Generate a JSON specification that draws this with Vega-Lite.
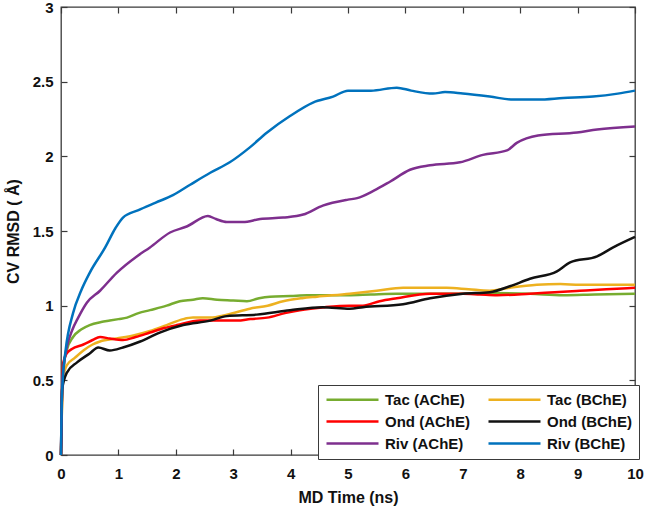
{
  "$schema": "https://vega.github.io/schema/vega-lite/v6.json",
  "width": 574,
  "height": 448,
  "autosize": "none",
  "padding": {"left": 61, "top": 7, "right": 10, "bottom": 58},
  "background": "white",
  "config": {"font": "Liberation Sans", "view": {"stroke": "#3a3a3a", "strokeWidth": 1.3}},
  "datasets": {
    "frame": [{"t": 0, "v": 0}, {"t": 10, "v": 3}]
  },
  "data": {
    "values": [
      {"s": "Tac (AChE)", "t": 0, "v": 0},
      {"s": "Tac (AChE)", "t": 0.02, "v": 0.4},
      {"s": "Tac (AChE)", "t": 0.05, "v": 0.6},
      {"s": "Tac (AChE)", "t": 0.1, "v": 0.7},
      {"s": "Tac (AChE)", "t": 0.21, "v": 0.79},
      {"s": "Tac (AChE)", "t": 0.35, "v": 0.84},
      {"s": "Tac (AChE)", "t": 0.5, "v": 0.87},
      {"s": "Tac (AChE)", "t": 0.7, "v": 0.89},
      {"s": "Tac (AChE)", "t": 0.85, "v": 0.9},
      {"s": "Tac (AChE)", "t": 1.0, "v": 0.91},
      {"s": "Tac (AChE)", "t": 1.15, "v": 0.92},
      {"s": "Tac (AChE)", "t": 1.35, "v": 0.95},
      {"s": "Tac (AChE)", "t": 1.55, "v": 0.97},
      {"s": "Tac (AChE)", "t": 1.84, "v": 1.0},
      {"s": "Tac (AChE)", "t": 2.07, "v": 1.03},
      {"s": "Tac (AChE)", "t": 2.3, "v": 1.04},
      {"s": "Tac (AChE)", "t": 2.47, "v": 1.05},
      {"s": "Tac (AChE)", "t": 2.72, "v": 1.04},
      {"s": "Tac (AChE)", "t": 3.0, "v": 1.035},
      {"s": "Tac (AChE)", "t": 3.24, "v": 1.03},
      {"s": "Tac (AChE)", "t": 3.45, "v": 1.05},
      {"s": "Tac (AChE)", "t": 3.64, "v": 1.06},
      {"s": "Tac (AChE)", "t": 4.0, "v": 1.065},
      {"s": "Tac (AChE)", "t": 4.29, "v": 1.07},
      {"s": "Tac (AChE)", "t": 4.56, "v": 1.07},
      {"s": "Tac (AChE)", "t": 5.0, "v": 1.07},
      {"s": "Tac (AChE)", "t": 5.4, "v": 1.075},
      {"s": "Tac (AChE)", "t": 5.85, "v": 1.08},
      {"s": "Tac (AChE)", "t": 6.5, "v": 1.08},
      {"s": "Tac (AChE)", "t": 7.0, "v": 1.08},
      {"s": "Tac (AChE)", "t": 7.5, "v": 1.085},
      {"s": "Tac (AChE)", "t": 8.17, "v": 1.08},
      {"s": "Tac (AChE)", "t": 8.75, "v": 1.07},
      {"s": "Tac (AChE)", "t": 9.3, "v": 1.075},
      {"s": "Tac (AChE)", "t": 10, "v": 1.08},

      {"s": "Tac (BChE)", "t": 0, "v": 0},
      {"s": "Tac (BChE)", "t": 0.02, "v": 0.38},
      {"s": "Tac (BChE)", "t": 0.04, "v": 0.52},
      {"s": "Tac (BChE)", "t": 0.1, "v": 0.6},
      {"s": "Tac (BChE)", "t": 0.24, "v": 0.65},
      {"s": "Tac (BChE)", "t": 0.39, "v": 0.7},
      {"s": "Tac (BChE)", "t": 0.55, "v": 0.74},
      {"s": "Tac (BChE)", "t": 0.68, "v": 0.76},
      {"s": "Tac (BChE)", "t": 0.97, "v": 0.78},
      {"s": "Tac (BChE)", "t": 1.26, "v": 0.8},
      {"s": "Tac (BChE)", "t": 1.55, "v": 0.83},
      {"s": "Tac (BChE)", "t": 1.84, "v": 0.87},
      {"s": "Tac (BChE)", "t": 2.13, "v": 0.91},
      {"s": "Tac (BChE)", "t": 2.3, "v": 0.92},
      {"s": "Tac (BChE)", "t": 2.6, "v": 0.92},
      {"s": "Tac (BChE)", "t": 2.89, "v": 0.94},
      {"s": "Tac (BChE)", "t": 3.29, "v": 0.98},
      {"s": "Tac (BChE)", "t": 3.6, "v": 1.0},
      {"s": "Tac (BChE)", "t": 3.87, "v": 1.03},
      {"s": "Tac (BChE)", "t": 4.2, "v": 1.05},
      {"s": "Tac (BChE)", "t": 4.46, "v": 1.06},
      {"s": "Tac (BChE)", "t": 5.03, "v": 1.08},
      {"s": "Tac (BChE)", "t": 5.5, "v": 1.1},
      {"s": "Tac (BChE)", "t": 5.96, "v": 1.12},
      {"s": "Tac (BChE)", "t": 6.4, "v": 1.12},
      {"s": "Tac (BChE)", "t": 6.72, "v": 1.12},
      {"s": "Tac (BChE)", "t": 7.1, "v": 1.11},
      {"s": "Tac (BChE)", "t": 7.47, "v": 1.1},
      {"s": "Tac (BChE)", "t": 7.82, "v": 1.12},
      {"s": "Tac (BChE)", "t": 8.29, "v": 1.14},
      {"s": "Tac (BChE)", "t": 8.7, "v": 1.145},
      {"s": "Tac (BChE)", "t": 9.04, "v": 1.14},
      {"s": "Tac (BChE)", "t": 9.5, "v": 1.14},
      {"s": "Tac (BChE)", "t": 10, "v": 1.14},

      {"s": "Ond (AChE)", "t": 0, "v": 0},
      {"s": "Ond (AChE)", "t": 0.02, "v": 0.45},
      {"s": "Ond (AChE)", "t": 0.04, "v": 0.62},
      {"s": "Ond (AChE)", "t": 0.1, "v": 0.68},
      {"s": "Ond (AChE)", "t": 0.19, "v": 0.71},
      {"s": "Ond (AChE)", "t": 0.39, "v": 0.74},
      {"s": "Ond (AChE)", "t": 0.55, "v": 0.77},
      {"s": "Ond (AChE)", "t": 0.68, "v": 0.79},
      {"s": "Ond (AChE)", "t": 0.85, "v": 0.78},
      {"s": "Ond (AChE)", "t": 1.08, "v": 0.77},
      {"s": "Ond (AChE)", "t": 1.3, "v": 0.79},
      {"s": "Ond (AChE)", "t": 1.55, "v": 0.82},
      {"s": "Ond (AChE)", "t": 1.8, "v": 0.85},
      {"s": "Ond (AChE)", "t": 2.02, "v": 0.87},
      {"s": "Ond (AChE)", "t": 2.42, "v": 0.9},
      {"s": "Ond (AChE)", "t": 2.72, "v": 0.9},
      {"s": "Ond (AChE)", "t": 3.07, "v": 0.9},
      {"s": "Ond (AChE)", "t": 3.3, "v": 0.91},
      {"s": "Ond (AChE)", "t": 3.59, "v": 0.92},
      {"s": "Ond (AChE)", "t": 3.9, "v": 0.95},
      {"s": "Ond (AChE)", "t": 4.16, "v": 0.97},
      {"s": "Ond (AChE)", "t": 4.6, "v": 0.99},
      {"s": "Ond (AChE)", "t": 5.03, "v": 1.0},
      {"s": "Ond (AChE)", "t": 5.26, "v": 1.0},
      {"s": "Ond (AChE)", "t": 5.55, "v": 1.03},
      {"s": "Ond (AChE)", "t": 5.85, "v": 1.05},
      {"s": "Ond (AChE)", "t": 6.43, "v": 1.08},
      {"s": "Ond (AChE)", "t": 7.0, "v": 1.08},
      {"s": "Ond (AChE)", "t": 7.3, "v": 1.075},
      {"s": "Ond (AChE)", "t": 7.6, "v": 1.07},
      {"s": "Ond (AChE)", "t": 8.17, "v": 1.08},
      {"s": "Ond (AChE)", "t": 8.6, "v": 1.09},
      {"s": "Ond (AChE)", "t": 9.04, "v": 1.1},
      {"s": "Ond (AChE)", "t": 9.5, "v": 1.11},
      {"s": "Ond (AChE)", "t": 10, "v": 1.12},

      {"s": "Ond (BChE)", "t": 0, "v": 0},
      {"s": "Ond (BChE)", "t": 0.02, "v": 0.44},
      {"s": "Ond (BChE)", "t": 0.1, "v": 0.55},
      {"s": "Ond (BChE)", "t": 0.28, "v": 0.62},
      {"s": "Ond (BChE)", "t": 0.5, "v": 0.68},
      {"s": "Ond (BChE)", "t": 0.65, "v": 0.72},
      {"s": "Ond (BChE)", "t": 0.85, "v": 0.7},
      {"s": "Ond (BChE)", "t": 1.08, "v": 0.72},
      {"s": "Ond (BChE)", "t": 1.38, "v": 0.76},
      {"s": "Ond (BChE)", "t": 1.72, "v": 0.82},
      {"s": "Ond (BChE)", "t": 2.13, "v": 0.87},
      {"s": "Ond (BChE)", "t": 2.6, "v": 0.9},
      {"s": "Ond (BChE)", "t": 2.89, "v": 0.93},
      {"s": "Ond (BChE)", "t": 3.41, "v": 0.94},
      {"s": "Ond (BChE)", "t": 3.99, "v": 0.97},
      {"s": "Ond (BChE)", "t": 4.56, "v": 0.99},
      {"s": "Ond (BChE)", "t": 5.03, "v": 0.98},
      {"s": "Ond (BChE)", "t": 5.26, "v": 0.99},
      {"s": "Ond (BChE)", "t": 5.96, "v": 1.01},
      {"s": "Ond (BChE)", "t": 6.43, "v": 1.05},
      {"s": "Ond (BChE)", "t": 7.0, "v": 1.08},
      {"s": "Ond (BChE)", "t": 7.47, "v": 1.09},
      {"s": "Ond (BChE)", "t": 7.82, "v": 1.13},
      {"s": "Ond (BChE)", "t": 8.17, "v": 1.18},
      {"s": "Ond (BChE)", "t": 8.64, "v": 1.23},
      {"s": "Ond (BChE)", "t": 8.87, "v": 1.29},
      {"s": "Ond (BChE)", "t": 9.34, "v": 1.33},
      {"s": "Ond (BChE)", "t": 9.62, "v": 1.39},
      {"s": "Ond (BChE)", "t": 10, "v": 1.46},

      {"s": "Riv (AChE)", "t": 0, "v": 0},
      {"s": "Riv (AChE)", "t": 0.02, "v": 0.45},
      {"s": "Riv (AChE)", "t": 0.05, "v": 0.6},
      {"s": "Riv (AChE)", "t": 0.1, "v": 0.72},
      {"s": "Riv (AChE)", "t": 0.2, "v": 0.84},
      {"s": "Riv (AChE)", "t": 0.3, "v": 0.92},
      {"s": "Riv (AChE)", "t": 0.45, "v": 1.02},
      {"s": "Riv (AChE)", "t": 0.68, "v": 1.1},
      {"s": "Riv (AChE)", "t": 0.97, "v": 1.22},
      {"s": "Riv (AChE)", "t": 1.32, "v": 1.33},
      {"s": "Riv (AChE)", "t": 1.55, "v": 1.39},
      {"s": "Riv (AChE)", "t": 1.9, "v": 1.49},
      {"s": "Riv (AChE)", "t": 2.19, "v": 1.53},
      {"s": "Riv (AChE)", "t": 2.56, "v": 1.6},
      {"s": "Riv (AChE)", "t": 2.7, "v": 1.58},
      {"s": "Riv (AChE)", "t": 2.89, "v": 1.56},
      {"s": "Riv (AChE)", "t": 3.17, "v": 1.56},
      {"s": "Riv (AChE)", "t": 3.47, "v": 1.58},
      {"s": "Riv (AChE)", "t": 3.87, "v": 1.59},
      {"s": "Riv (AChE)", "t": 4.22, "v": 1.61},
      {"s": "Riv (AChE)", "t": 4.56, "v": 1.67},
      {"s": "Riv (AChE)", "t": 5.0, "v": 1.71},
      {"s": "Riv (AChE)", "t": 5.16, "v": 1.72},
      {"s": "Riv (AChE)", "t": 5.45, "v": 1.77},
      {"s": "Riv (AChE)", "t": 5.73, "v": 1.83},
      {"s": "Riv (AChE)", "t": 6.08, "v": 1.91},
      {"s": "Riv (AChE)", "t": 6.43, "v": 1.94},
      {"s": "Riv (AChE)", "t": 6.95, "v": 1.96},
      {"s": "Riv (AChE)", "t": 7.35, "v": 2.01},
      {"s": "Riv (AChE)", "t": 7.77, "v": 2.04},
      {"s": "Riv (AChE)", "t": 7.94, "v": 2.09},
      {"s": "Riv (AChE)", "t": 8.31, "v": 2.14},
      {"s": "Riv (AChE)", "t": 8.99, "v": 2.16},
      {"s": "Riv (AChE)", "t": 9.34, "v": 2.18},
      {"s": "Riv (AChE)", "t": 10, "v": 2.2},

      {"s": "Riv (BChE)", "t": 0, "v": 0},
      {"s": "Riv (BChE)", "t": 0.01, "v": 0.3},
      {"s": "Riv (BChE)", "t": 0.03, "v": 0.5},
      {"s": "Riv (BChE)", "t": 0.08, "v": 0.7},
      {"s": "Riv (BChE)", "t": 0.21, "v": 0.95},
      {"s": "Riv (BChE)", "t": 0.35, "v": 1.1},
      {"s": "Riv (BChE)", "t": 0.5, "v": 1.22},
      {"s": "Riv (BChE)", "t": 0.77, "v": 1.39},
      {"s": "Riv (BChE)", "t": 0.95, "v": 1.52},
      {"s": "Riv (BChE)", "t": 1.08, "v": 1.59},
      {"s": "Riv (BChE)", "t": 1.35, "v": 1.64},
      {"s": "Riv (BChE)", "t": 1.65, "v": 1.69},
      {"s": "Riv (BChE)", "t": 1.95, "v": 1.74},
      {"s": "Riv (BChE)", "t": 2.25, "v": 1.81},
      {"s": "Riv (BChE)", "t": 2.6, "v": 1.89},
      {"s": "Riv (BChE)", "t": 2.94, "v": 1.96},
      {"s": "Riv (BChE)", "t": 3.29, "v": 2.06},
      {"s": "Riv (BChE)", "t": 3.59, "v": 2.16},
      {"s": "Riv (BChE)", "t": 3.99, "v": 2.27},
      {"s": "Riv (BChE)", "t": 4.39, "v": 2.36},
      {"s": "Riv (BChE)", "t": 4.74, "v": 2.4},
      {"s": "Riv (BChE)", "t": 5.0, "v": 2.44},
      {"s": "Riv (BChE)", "t": 5.4, "v": 2.44},
      {"s": "Riv (BChE)", "t": 5.85, "v": 2.46},
      {"s": "Riv (BChE)", "t": 6.1, "v": 2.44},
      {"s": "Riv (BChE)", "t": 6.48, "v": 2.42},
      {"s": "Riv (BChE)", "t": 6.69, "v": 2.43},
      {"s": "Riv (BChE)", "t": 7.0, "v": 2.42},
      {"s": "Riv (BChE)", "t": 7.47, "v": 2.4},
      {"s": "Riv (BChE)", "t": 7.88, "v": 2.38},
      {"s": "Riv (BChE)", "t": 8.31, "v": 2.38},
      {"s": "Riv (BChE)", "t": 8.75, "v": 2.39},
      {"s": "Riv (BChE)", "t": 9.27, "v": 2.4},
      {"s": "Riv (BChE)", "t": 9.7, "v": 2.42},
      {"s": "Riv (BChE)", "t": 10, "v": 2.44}
    ]
  },
  "layer": [
    {
      "data": {"name": "frame"},
      "mark": {"type": "point", "opacity": 0},
      "encoding": {
        "x": {
          "field": "t", "type": "quantitative",
          "scale": {"domain": [0, 10], "nice": false},
          "axis": {"orient": "top", "offset": -448, "tickCount": 10, "labels": false, "domain": false, "grid": false, "title": null, "tickColor": "#3a3a3a", "tickSize": 6, "tickWidth": 1.2}
        },
        "y": {
          "field": "v", "type": "quantitative",
          "scale": {"domain": [0, 3], "nice": false},
          "axis": {"orient": "right", "offset": -574, "tickCount": 6, "labels": false, "domain": false, "grid": false, "title": null, "tickColor": "#3a3a3a", "tickSize": 6, "tickWidth": 1.2}
        }
      }
    },
    {
      "data": {"name": "frame"},
      "mark": {"type": "point", "opacity": 0},
      "encoding": {
        "x": {
          "field": "t", "type": "quantitative",
          "scale": {"domain": [0, 10], "nice": false},
          "axis": {"orient": "bottom", "offset": -448, "tickCount": 10, "labels": false, "domain": false, "grid": false, "title": null, "tickColor": "#3a3a3a", "tickSize": 6, "tickWidth": 1.2}
        },
        "y": {
          "field": "v", "type": "quantitative",
          "scale": {"domain": [0, 3], "nice": false},
          "axis": {"orient": "left", "offset": -574, "tickCount": 6, "labels": false, "domain": false, "grid": false, "title": null, "tickColor": "#3a3a3a", "tickSize": 6, "tickWidth": 1.2}
        }
      }
    },
    {
      "mark": {"type": "line", "strokeWidth": 2.5, "strokeJoin": "round", "interpolate": "monotone"},
      "encoding": {
        "x": {
          "field": "t", "type": "quantitative",
          "scale": {"domain": [0, 10], "nice": false},
          "axis": {"orient": "bottom", "tickCount": 10, "ticks": false, "domain": false, "grid": false, "labelPadding": 11, "labelFlush": false,
            "labelFont": "Liberation Sans", "labelFontSize": 15, "labelFontWeight": "bold", "labelColor": "#111111",
            "title": "MD Time (ns)", "titleFont": "Liberation Sans", "titleFontSize": 16, "titleFontWeight": "bold", "titleColor": "#111111",
            "titleX": 287, "titleY": 42, "titleBaseline": "middle"}
        },
        "y": {
          "field": "v", "type": "quantitative",
          "scale": {"domain": [0, 3], "nice": false},
          "axis": {"orient": "left", "tickCount": 6, "format": ".1~f", "ticks": false, "domain": false, "grid": false, "labelPadding": 8, "labelFlush": false,
            "labelFont": "Liberation Sans", "labelFontSize": 15, "labelFontWeight": "bold", "labelColor": "#111111",
            "title": "CV RMSD ( Å)", "titleFont": "Liberation Sans", "titleFontSize": 16, "titleFontWeight": "bold", "titleColor": "#111111",
            "titleX": -48, "titleY": 224, "titleBaseline": "middle", "titleAlign": "center", "titleAngle": 270}
        },
        "color": {
          "field": "s", "type": "nominal",
          "scale": {
            "domain": ["Tac (AChE)", "Ond (AChE)", "Riv (AChE)", "Tac (BChE)", "Ond (BChE)", "Riv (BChE)"],
            "range": ["#77AC30", "#FF0000", "#7E2F8E", "#EDB120", "#111111", "#0072BD"]
          },
          "legend": {
            "title": null,
            "orient": "none",
            "legendX": 257,
            "legendY": 378,
            "columns": 2,
            "direction": "vertical",
            "symbolType": "stroke",
            "symbolSize": 2704,
            "symbolStrokeWidth": 2.5,
            "clipHeight": 15,
            "labelFont": "Liberation Sans",
            "labelFontSize": 15,
            "labelFontWeight": "bold",
            "labelColor": "#111111",
            "labelOffset": 5,
            "rowPadding": 6,
            "columnPadding": 17,
            "padding": 7,
            "strokeColor": "#3a3a3a",
            "fillColor": "white",
            "labelLimit": 200
          }
        }
      }
    }
  ],
  "resolve": {"scale": {"x": "independent", "y": "independent"}}
}
